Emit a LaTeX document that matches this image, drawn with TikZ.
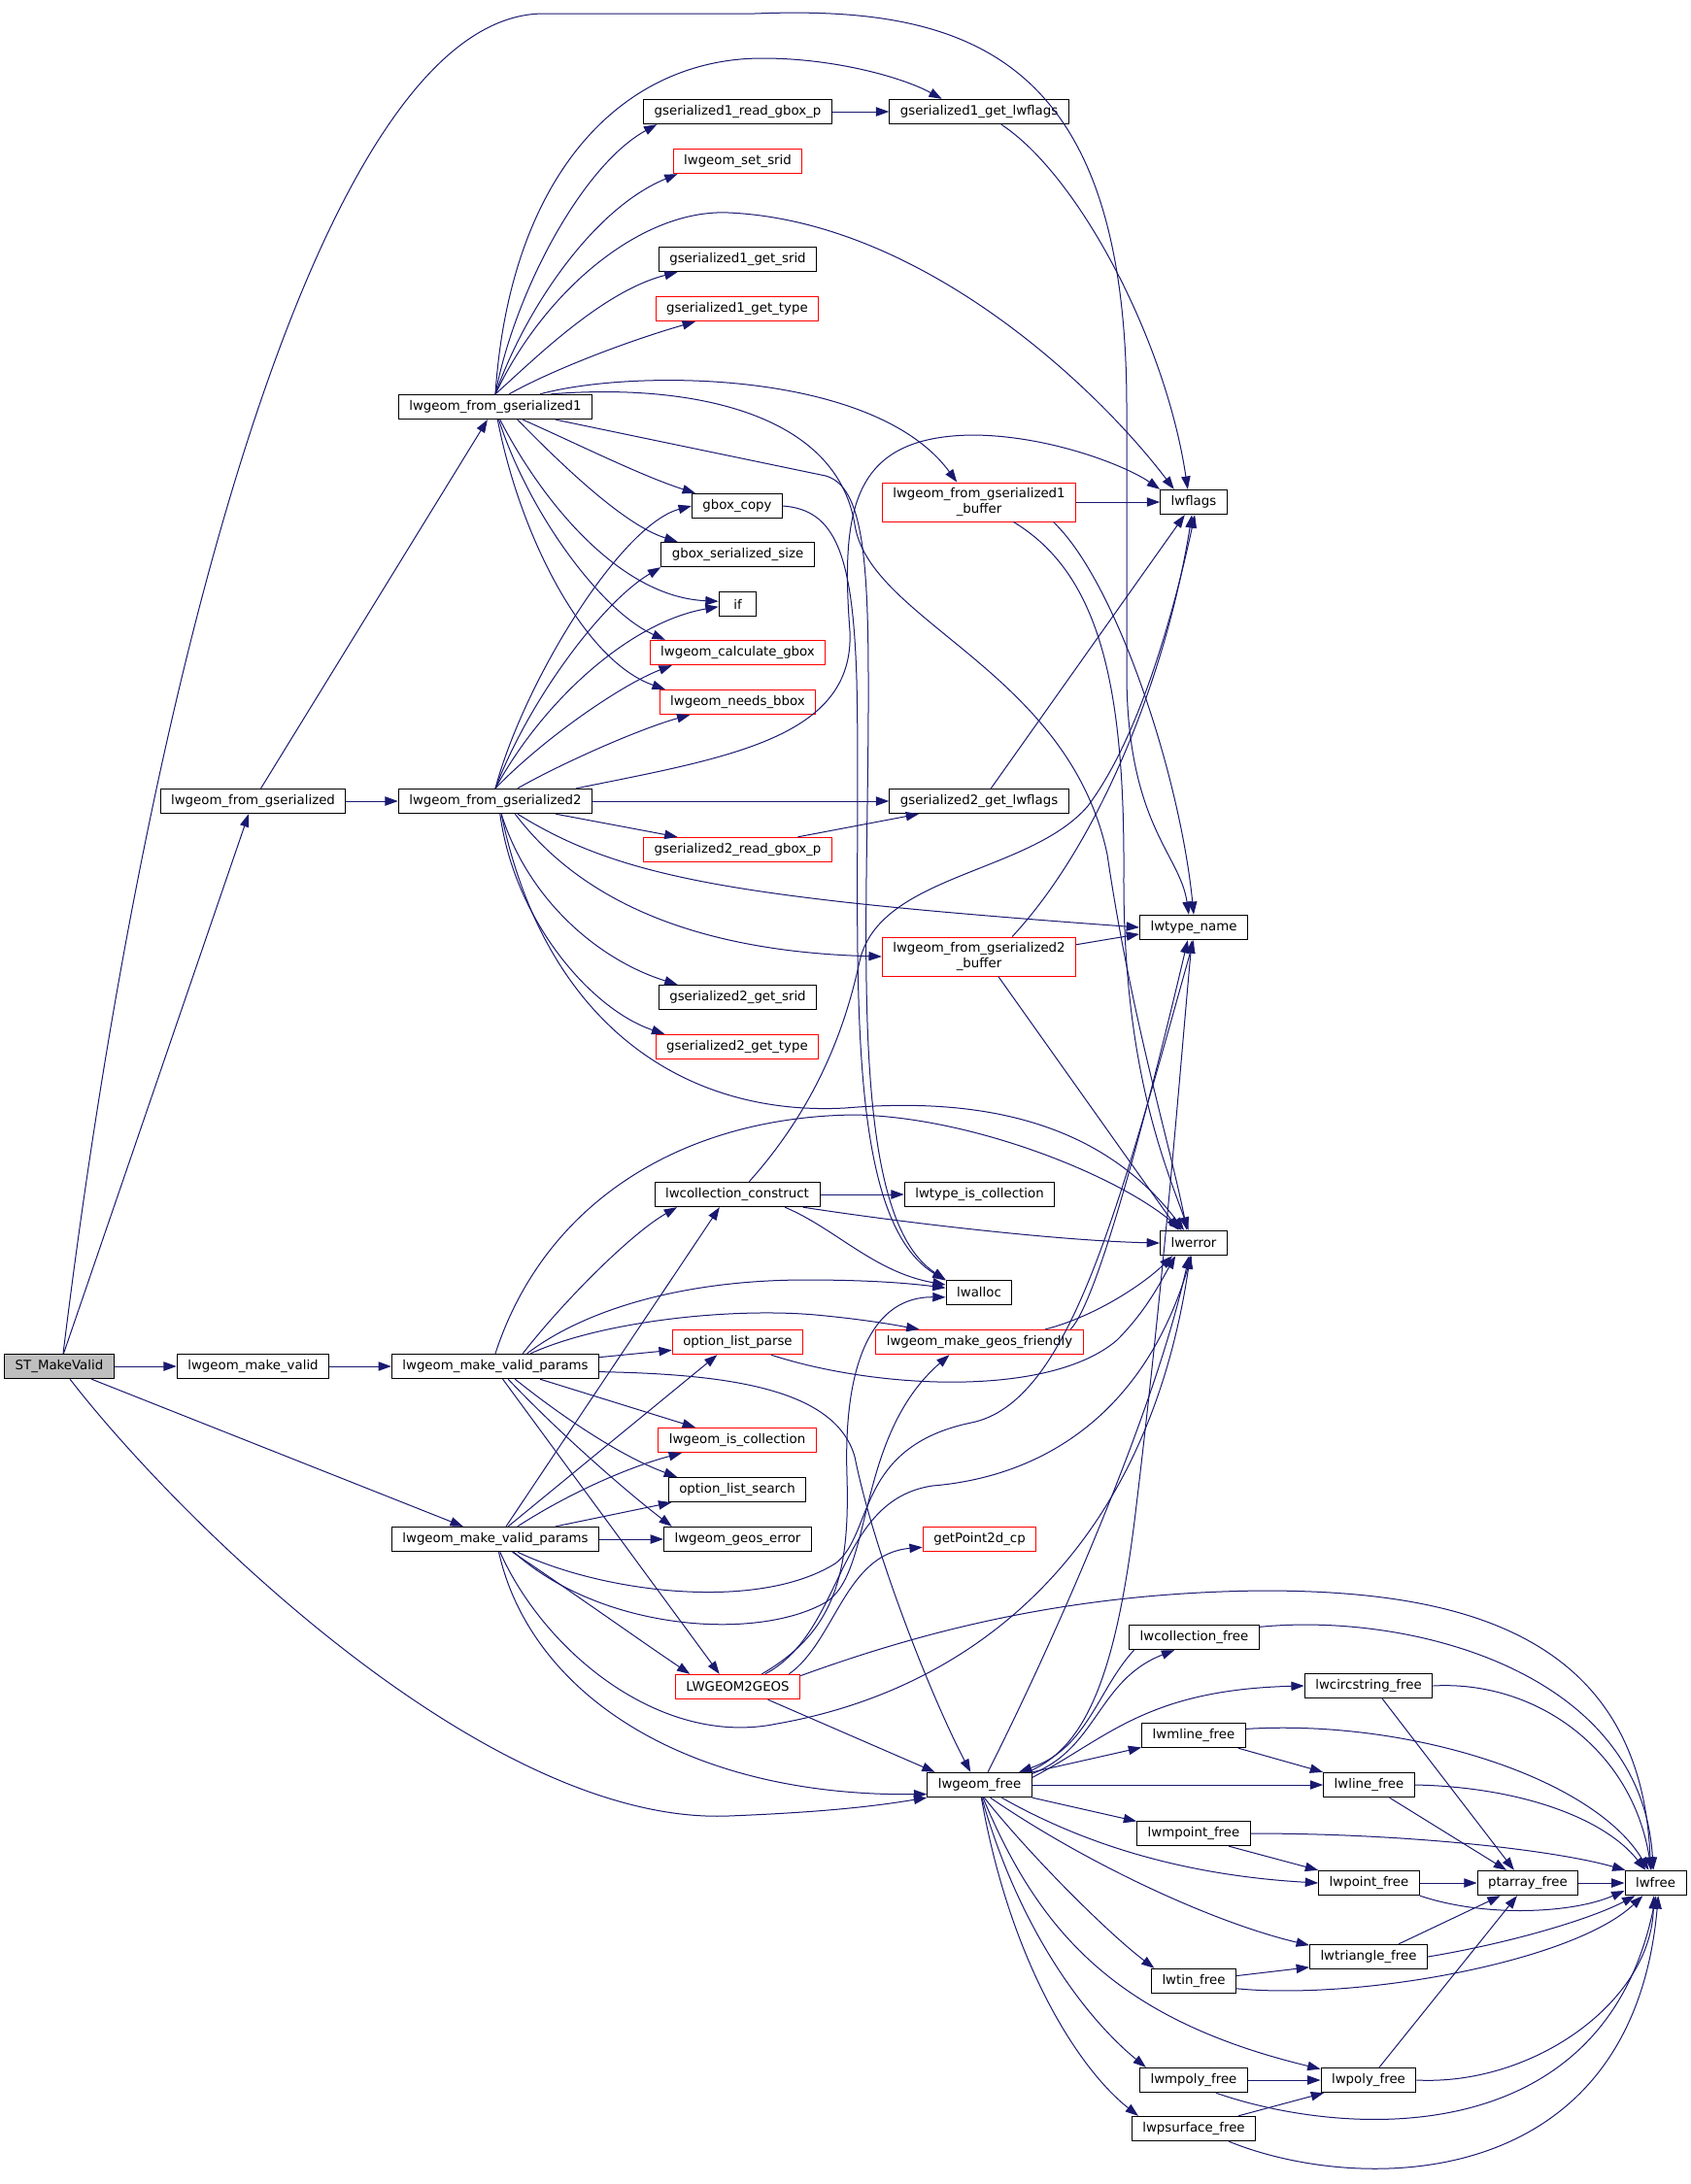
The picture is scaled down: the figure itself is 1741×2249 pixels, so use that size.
\documentclass[tikz,border=0pt]{standalone}
\usepackage{fontspec}
\setmainfont{DejaVu Sans}
\usetikzlibrary{arrows.meta}
\definecolor{edgeblue}{HTML}{191970}
\definecolor{rootgrey}{HTML}{BFBFBF}
\tikzset{
  fn/.style={draw=black, rectangle, line width=0.75pt, fill=white,
    minimum height=19pt, minimum width=29pt, inner xsep=8.3pt, inner ysep=1pt,
    font=\fontsize{10}{12}\selectfont},
  fnred/.style={fn, draw=red},
  fnroot/.style={fn, fill=rootgrey},
  twoline/.style={align=center, minimum height=30pt},
  calls/.style={draw=edgeblue, line width=0.75pt, -{Triangle[length=10pt,width=7pt]}},
}

\begin{document}
\begin{tikzpicture}[x=0.75pt, y=-0.75pt]
   \fill[white] (0,0) rectangle (1741,2249);
   \useasboundingbox (0,0) rectangle (1741,2249);
   % functions
   \node[fnroot] (makevalid) at (61,1407) {ST\_MakeValid};
   \node[fn] (fromgser) at (260.5,825) {lwgeom\_from\_gserialized};
   \node[fn] (mkvalid) at (260.5,1407) {lwgeom\_make\_valid};
   \node[fn] (fromgser1) at (510,419) {lwgeom\_from\_gserialized1};
   \node[fn] (fromgser2) at (510,825) {lwgeom\_from\_gserialized2};
   \node[fn] (params) at (510,1407) {lwgeom\_make\_valid\_params};
   \node[fn] (paramsb) at (510,1585) {lwgeom\_make\_valid\_params};
   \node[fn] (readbox1) at (759.5,115) {gserialized1\_read\_gbox\_p};
   \node[fnred] (setsrid) at (759.5,166) {lwgeom\_set\_srid};
   \node[fn] (srid1) at (759.5,267) {gserialized1\_get\_srid};
   \node[fnred] (type1) at (759,318) {gserialized1\_get\_type};
   \node[fn] (boxcopy) at (759,521) {gbox\_copy};
   \node[fn] (boxsize) at (759.5,571) {gbox\_serialized\_size};
   \node[fn] (ifnode) at (759.5,622) {if};
   \node[fnred] (calcbox) at (759.5,672) {lwgeom\_calculate\_gbox};
   \node[fnred] (needsbox) at (759.5,723) {lwgeom\_needs\_bbox};
   \node[fnred] (readbox2) at (759.5,875) {gserialized2\_read\_gbox\_p};
   \node[fn] (srid2) at (759.5,1027) {gserialized2\_get\_srid};
   \node[fnred] (type2) at (759,1078) {gserialized2\_get\_type};
   \node[fn] (collcons) at (759,1230) {lwcollection\_construct};
   \node[fnred] (optparse) at (759.5,1382) {option\_list\_parse};
   \node[fnred] (iscoll) at (759,1483) {lwgeom\_is\_collection};
   \node[fn] (optsearch) at (759,1534) {option\_list\_search};
   \node[fn] (geoserr) at (759.5,1585) {lwgeom\_geos\_error};
   \node[fnred] (togeos) at (759.5,1737) {LWGEOM2GEOS};
   \node[fn] (flags1) at (1008,115) {gserialized1\_get\_lwflags};
   \node[fnred, twoline] (buf1) at (1008,517) {lwgeom\_from\_gserialized1\\\_buffer};
   \node[fn] (flags2) at (1008,825) {gserialized2\_get\_lwflags};
   \node[fnred, twoline] (buf2) at (1008,985) {lwgeom\_from\_gserialized2\\\_buffer};
   \node[fn] (istypecoll) at (1008.5,1230) {lwtype\_is\_collection};
   \node[fn] (alloc) at (1008,1331) {lwalloc};
   \node[fnred] (geosfriendly) at (1008.5,1382) {lwgeom\_make\_geos\_friendly};
   \node[fnred] (getpoint) at (1008.5,1585) {getPoint2d\_cp};
   \node[fn] (geomfree) at (1008.5,1838) {lwgeom\_free};
   \node[fn] (lwflags) at (1229,517) {lwflags};
   \node[fn] (typename) at (1229,955) {lwtype\_name};
   \node[fn] (lwerror) at (1229,1280) {lwerror};
   \node[fn] (collfree) at (1229.5,1686) {lwcollection\_free};
   \node[fn] (mlinefree) at (1229,1787) {lwmline\_free};
   \node[fn] (mpointfree) at (1229,1888) {lwmpoint\_free};
   \node[fn] (tinfree) at (1229,2040) {lwtin\_free};
   \node[fn] (mpolyfree) at (1229,2142) {lwmpoly\_free};
   \node[fn] (psurffree) at (1229,2192) {lwpsurface\_free};
   \node[fn] (circfree) at (1409,1736) {lwcircstring\_free};
   \node[fn] (linefree) at (1409.5,1838) {lwline\_free};
   \node[fn] (pointfree) at (1409.5,1939) {lwpoint\_free};
   \node[fn] (trifree) at (1409,2015) {lwtriangle\_free};
   \node[fn] (polyfree) at (1409,2142) {lwpoly\_free};
   \node[fn] (ptafree) at (1573,1939) {ptarray\_free};
   \node[fn] (lwfree) at (1704.5,1939) {lwfree};
   % ST_MakeValid
   \draw[calls] (makevalid) -- (fromgser);
   \draw[calls] (makevalid) -- (mkvalid);
   \draw[calls] (makevalid) -- (paramsb);
   \draw[calls] (makevalid.310) .. controls (180,1560) and (500,1880) .. (750,1870) .. controls (850,1866) and (900,1860) .. (geomfree.south west);
   \draw[calls] (makevalid.73) .. controls (150,700) and (330,14) .. (560,14) -- (777,14) .. controls (1000,5) and (1160,60) .. (1160,420) -- (1160,700) .. controls (1162,850) and (1215,880) .. (typename.111);
   \draw[calls] (fromgser) -- (fromgser1);
   \draw[calls] (fromgser) -- (fromgser2);
   \draw[calls] (mkvalid) -- (params);
   % lwgeom_from_gserialized1
   \draw[calls] (fromgser1.north) .. controls (530,300) and (600,170) .. (readbox1.189);
   \draw[calls] (fromgser1.north) .. controls (540,320) and (610,215) .. (setsrid.192);
   \draw[calls] (fromgser1.north) .. controls (525,180) and (640,60) .. (785,60) .. controls (860,60) and (930,80) .. (flags1.161);
   \draw[calls] (fromgser1.north) .. controls (560,300) and (660,215) .. (750,219) .. controls (950,228) and (1130,400) .. (lwflags.147);
   \draw[calls] (fromgser1.north) .. controls (550,370) and (620,300) .. (srid1.192);
   \draw[calls] (fromgser1.43) .. controls (570,380) and (650,350) .. (type1.197);
   \draw[calls] (fromgser1.16) .. controls (650,380) and (900,380) .. (buf1.138);
   \draw[calls] (fromgser1.13) .. controls (700,395) and (860,420) .. (880,540) .. controls (895,640) and (1100,690) .. (1140,880) .. controls (1165,1050) and (1205,1180) .. (lwerror.118);
   \draw[calls] (fromgser1.348) -- (850,490) .. controls (885,500) and (894,560) .. (894,700) .. controls (895,950) and (870,1250) .. (alloc.north west);
   \draw[calls] (fromgser1.335) .. controls (590,455) and (660,490) .. (boxcopy.163);
   \draw[calls] (fromgser1.330) .. controls (570,470) and (640,540) .. (boxsize.168);
   \draw[calls] (fromgser1.290) .. controls (560,520) and (640,615) .. (ifnode.172);
   \draw[calls] (fromgser1.285) .. controls (545,530) and (620,630) .. (calcbox.170);
   \draw[calls] (fromgser1.280) .. controls (535,550) and (600,680) .. (needsbox.170);
   % lwgeom_from_gserialized2
   \draw[calls] (fromgser2) -- (flags2);
   \draw[calls] (fromgser2.348) -- (readbox2.168);
   \draw[calls] (fromgser2.330) .. controls (640,905) and (760,925) .. (typename.west);
   \draw[calls] (fromgser2.327) .. controls (600,930) and (720,980) .. (buf2.west);
   \draw[calls] (fromgser2.295) .. controls (560,1050) and (700,1150) .. (870,1141) .. controls (1000,1130) and (1130,1150) .. (lwerror.127);
   \draw[calls] (fromgser2.north) .. controls (540,700) and (640,540) .. (boxcopy.west);
   \draw[calls] (fromgser2.north) .. controls (545,720) and (620,620) .. (boxsize.south west);
   \draw[calls] (fromgser2.north) .. controls (560,720) and (650,640) .. (ifnode.188);
   \draw[calls] (fromgser2.north) .. controls (560,760) and (640,705) .. (calcbox.191);
   \draw[calls] (fromgser2.30) .. controls (580,785) and (660,750) .. (needsbox.195);
   \draw[calls] (fromgser2.9) .. controls (750,780) and (880,760) .. (875,650) .. controls (865,520) and (880,450) .. (1000,448) .. controls (1080,448) and (1160,480) .. (lwflags.north west);
   \draw[calls] (fromgser2.295) .. controls (545,930) and (620,990) .. (srid2.168);
   \draw[calls] (fromgser2.290) .. controls (530,950) and (610,1040) .. (type2.170);
   % flags and buffers
   \draw[calls] (readbox1) -- (flags1);
   \draw[calls] (flags1.330) .. controls (1110,180) and (1200,350) .. (lwflags.115);
   \draw[calls] (buf1) -- (lwflags);
   \draw[calls] (buf1.345) .. controls (1150,600) and (1215,800) .. (typename.north);
   \draw[calls] (buf1.330) .. controls (1130,590) and (1158,700) .. (1157,900) .. controls (1156,1100) and (1200,1200) .. (lwerror.112);
   \draw[calls] (readbox2.12) -- (flags2.192);
   \draw[calls] (flags2.47) -- (lwflags.235);
   \draw[calls] (buf2.7) -- (typename.187);
   \draw[calls] (buf2.31) .. controls (1130,870) and (1200,700) .. (lwflags.262);
   \draw[calls] (buf2.314) -- (lwerror.140);
   \draw[calls] (boxcopy.east) .. controls (860,525) and (878,570) .. (882,700) .. controls (888,950) and (860,1250) .. (alloc.160);
   % lwcollection_construct
   \draw[calls] (collcons) -- (istypecoll);
   \draw[calls] (collcons.349) .. controls (950,1262) and (1100,1278) .. (lwerror.west);
   \draw[calls] (collcons.345) .. controls (860,1265) and (900,1310) .. (alloc.167);
   \draw[calls] (collcons.47) .. controls (840,1140) and (870,1060) .. (885,990) .. controls (905,900) and (1060,900) .. (1120,830) .. controls (1180,750) and (1215,600) .. (lwflags.275);
   % lwgeom_make_valid_params
   \draw[calls] (params.25) .. controls (580,1340) and (650,1270) .. (collcons.192);
   \draw[calls] (params.north) .. controls (560,1240) and (700,1150) .. (880,1148) .. controls (1000,1150) and (1150,1210) .. (lwerror.133);
   \draw[calls] (params.22) .. controls (600,1350) and (700,1318) .. (830,1318) .. controls (900,1318) and (940,1322) .. (alloc.172);
   \draw[calls] (params.20) .. controls (620,1360) and (760,1345) .. (850,1355) .. controls (900,1360) and (930,1366) .. (geosfriendly.168);
   \draw[calls] (params.5) -- (optparse.187);
   \draw[calls] (params.357) .. controls (750,1415) and (860,1430) .. (880,1500) .. controls (900,1600) and (960,1750) .. (geomfree.125);
   \draw[calls] (params.344) -- (iscoll.163);
   \draw[calls] (params.327) .. controls (580,1460) and (640,1500) .. (optsearch.168);
   \draw[calls] (params.315) .. controls (580,1480) and (650,1540) .. (geoserr.169);
   \draw[calls] (params.300) -- (togeos.145);
   \draw[calls] (paramsb.50) -- (collcons.216);
   \draw[calls] (paramsb.45) -- (optparse.212);
   \draw[calls] (paramsb.30) .. controls (590,1535) and (650,1510) .. (iscoll.193);
   \draw[calls] (paramsb.12) -- (optsearch.191);
   \draw[calls] (paramsb) -- (geoserr);
   \draw[calls] (paramsb.323) .. controls (590,1640) and (660,1690) .. (togeos.165);
   \draw[calls] (paramsb.330) .. controls (620,1640) and (780,1660) .. (860,1610) .. controls (900,1580) and (880,1490) .. (1000,1465) .. controls (1100,1445) and (1150,1250) .. (typename.south);
   \draw[calls] (paramsb.325) .. controls (620,1680) and (780,1690) .. (850,1650) .. controls (900,1620) and (880,1480) .. (geosfriendly.203);
   \draw[calls] (paramsb.290) .. controls (560,1700) and (680,1800) .. (800,1775) .. controls (1000,1740) and (1180,1600) .. (lwerror.255);
   \draw[calls] (paramsb.285) .. controls (545,1740) and (700,1850) .. (geomfree.190);
   % LWGEOM2GEOS and friends
   \draw[calls] (togeos.337) -- (geomfree.164);
   \draw[calls] (togeos.28) .. controls (860,1680) and (875,1620) .. (872,1520) .. controls (868,1400) and (900,1335) .. (alloc.188);
   \draw[calls] (togeos.14) .. controls (860,1690) and (870,1600) .. (getpoint.188);
   \draw[calls] (togeos.10) .. controls (950,1680) and (1100,1640) .. (1300,1638) .. controls (1500,1638) and (1690,1680) .. (lwfree.111);
   \draw[calls] (togeos.25) .. controls (870,1680) and (860,1545) .. (960,1530) .. controls (1080,1520) and (1180,1450) .. (lwerror.260);
   \draw[calls] (geosfriendly.11) .. controls (1130,1355) and (1180,1320) .. (lwerror.211);
   \draw[calls] (geosfriendly.8) .. controls (1130,1340) and (1180,1150) .. (typename.245);
   \draw[calls] (optparse.339) .. controls (900,1430) and (1080,1440) .. (1150,1380) .. controls (1180,1350) and (1195,1320) .. (lwerror.215);
   % lwgeom_free
   \draw[calls] (geomfree.57) .. controls (1090,1680) and (1190,1450) .. (lwerror.250);
   \draw[calls] (geomfree.15) .. controls (1120,1800) and (1150,1720) .. (1170,1550) .. controls (1200,1300) and (1215,1100) .. (typename.262);
   \draw[calls] (geomfree.12) .. controls (1130,1800) and (1130,1730) .. (collfree.213);
   \draw[calls] (collfree.192) .. controls (1130,1740) and (1120,1800) .. (geomfree.18);
   \draw[calls] (geomfree.8) .. controls (1140,1790) and (1180,1740) .. (circfree.west);
   \draw[calls] (geomfree.north east) -- (mlinefree.193);
   \draw[calls] (geomfree) -- (linefree);
   \draw[calls] (geomfree.south east) -- (mpointfree.168);
   \draw[calls] (geomfree.330) .. controls (1100,1890) and (1200,1930) .. (pointfree.west);
   \draw[calls] (geomfree.310) .. controls (1120,1920) and (1250,1980) .. (trifree.169);
   \draw[calls] (geomfree.290) .. controls (1060,1910) and (1140,1990) .. (tinfree.162);
   \draw[calls] (geomfree.285) .. controls (1070,1990) and (1150,2080) .. (polyfree.167);
   \draw[calls] (geomfree.280) .. controls (1050,1990) and (1120,2080) .. (mpolyfree.165);
   \draw[calls] (geomfree.278) .. controls (1040,2020) and (1110,2130) .. (psurffree.167);
   % free functions
   \draw[calls] (collfree.9) .. controls (1450,1660) and (1690,1720) .. (lwfree.100);
   \draw[calls] (circfree.east) .. controls (1580,1730) and (1680,1800) .. (lwfree.108);
   \draw[calls] (circfree.317) -- (ptafree.137);
   \draw[calls] (mlinefree.7) .. controls (1450,1770) and (1640,1830) .. (lwfree.118);
   \draw[calls] (mlinefree.344) -- (linefree.north west);
   \draw[calls] (linefree.east) .. controls (1560,1840) and (1650,1870) .. (lwfree.128);
   \draw[calls] (linefree.328) -- (ptafree.149);
   \draw[calls] (mpointfree.east) .. controls (1450,1888) and (1600,1905) .. (lwfree.157);
   \draw[calls] (mpointfree.340) -- (pointfree.north west);
   \draw[calls] (pointfree) -- (ptafree);
   \draw[calls] (pointfree.south east) .. controls (1530,1975) and (1620,1970) .. (lwfree.194);
   \draw[calls] (ptafree) -- (lwfree);
   \draw[calls] (trifree.23) -- (ptafree.205);
   \draw[calls] (trifree.east) .. controls (1560,2000) and (1640,1975) .. (lwfree.212);
   \draw[calls] (tinfree.7) -- (trifree.190);
   \draw[calls] (tinfree.350) .. controls (1400,2060) and (1620,2020) .. (lwfree.225);
   \draw[calls] (polyfree.50) -- (ptafree.230);
   \draw[calls] (polyfree.east) .. controls (1580,2148) and (1700,2060) .. (lwfree.262);
   \draw[calls] (mpolyfree) -- (polyfree);
   \draw[calls] (mpolyfree.330) .. controls (1380,2200) and (1650,2220) .. (lwfree.272);
   \draw[calls] (psurffree.16) -- (polyfree.196);
   \draw[calls] (psurffree.340) .. controls (1400,2260) and (1680,2260) .. (lwfree.282);
\end{tikzpicture}
\end{document}
